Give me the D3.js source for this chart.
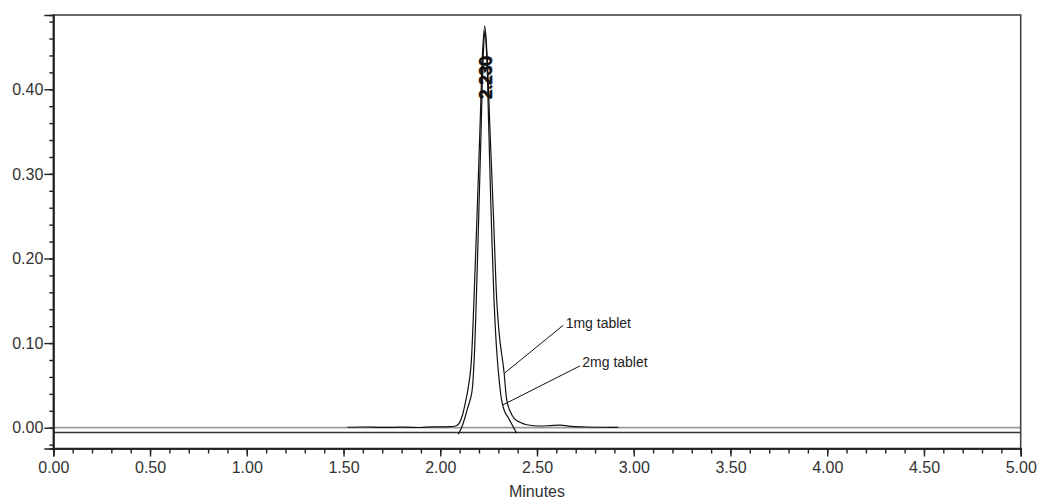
<!DOCTYPE html>
<html>
<head>
<meta charset="utf-8">
<script src="https://cdn.jsdelivr.net/npm/d3@7"></script>
<style>
  html, body { margin: 0; padding: 0; background: #fff; }
  svg { display: block; font-family: "Liberation Sans", Arial, Helvetica, sans-serif; }
</style>
</head>
<body>
<svg id="chart" width="1039" height="501"></svg>
<script>
// ---- data (minutes, AU) ----
const xMajorTicks = [0, 0.5, 1, 1.5, 2, 2.5, 3, 3.5, 4, 4.5, 5];
const xMinorTicks = d3.range(0, 51).map(i => i / 10);
const yMajorTicks = [0, 0.1, 0.2, 0.3, 0.4];
const yMinorTicks = d3.range(-1, 25).map(i => i * 0.02);

const trace1mgTime = [1.52, 1.60, 1.70, 1.80, 1.90, 1.96, 2.00, 2.05, 2.08, 2.10, 2.115, 2.13, 2.145, 2.162, 2.174, 2.19, 2.205, 2.218, 2.23, 2.242, 2.257, 2.275, 2.292, 2.303, 2.33, 2.342, 2.36, 2.386, 2.412, 2.447, 2.515, 2.57, 2.62, 2.68, 2.75, 2.85, 2.92];
const trace1mgValue = [0.0005, 0.0008, 0.0003, 0.0006, 0.0002, 0.0010, 0.0010, 0.0012, 0.0020, 0.0060, 0.015, 0.030, 0.048, 0.084, 0.150, 0.250, 0.352, 0.440, 0.475, 0.440, 0.352, 0.250, 0.150, 0.115, 0.065, 0.035, 0.020, 0.010, 0.0065, 0.0035, 0.002, 0.0025, 0.003, 0.0015, 0.0008, 0.0005, 0.0004];

const trace2mgBaselineTime = [0, 5];
const trace2mgBaselineValue = [-0.0057, -0.0057];
const trace2mgTime = [2.093, 2.11, 2.125, 2.14, 2.162, 2.174, 2.186, 2.20, 2.212, 2.222, 2.231, 2.24, 2.25, 2.262, 2.278, 2.292, 2.305, 2.317, 2.335, 2.351, 2.377, 2.395];
const trace2mgValue = [-0.0078, 0.000, 0.010, 0.022, 0.040, 0.075, 0.150, 0.260, 0.360, 0.440, 0.470, 0.440, 0.360, 0.260, 0.150, 0.090, 0.055, 0.033, 0.018, 0.012, 0.001, -0.0066];

const zeroLineValue = 0;
const peakLabel = "2.230";
const peakTime = 2.23;
const peakLabelValue = 0.388;

const annotations = [
  { text: "1mg tablet", tx: 2.648, ty: 0.1178, x1: 2.635, y1: 0.121, x2: 2.335, y2: 0.065 },
  { text: "2mg tablet", tx: 2.734, ty: 0.072, x1: 2.722, y1: 0.073, x2: 2.324, y2: 0.027 }
];

// ---- layout ----
const plotLeft = 53.3, plotRight = 1020.7, plotTop = 15, plotBottom = 448.5;
const svg = d3.select("#chart");

const x = d3.scaleLinear().domain([0, 5]).range([plotLeft, plotRight]);
const y = d3.scaleLinear().domain([-0.0246, 0.4878]).range([plotBottom, plotTop]);

// zero line (gray)
svg.append("line")
  .attr("x1", x(0)).attr("x2", x(5))
  .attr("y1", y(zeroLineValue)).attr("y2", y(zeroLineValue))
  .attr("stroke", "#9a9a9a").attr("stroke-width", 1.8);

const line = d3.line().x(d => x(d[0])).y(d => y(d[1])).curve(d3.curveMonotoneX);

// 2mg baseline
svg.append("path")
  .attr("d", line(trace2mgBaselineTime.map((t, i) => [t, trace2mgBaselineValue[i]])))
  .attr("fill", "none").attr("stroke", "#333").attr("stroke-width", 1.5);

// traces
svg.append("path")
  .attr("d", line(trace1mgTime.map((t, i) => [t, trace1mgValue[i]])))
  .attr("fill", "none").attr("stroke", "#111").attr("stroke-width", 1.2);

svg.append("path")
  .attr("d", d3.line().x(d => x(d[0])).y(d => y(d[1])).curve(d3.curveCatmullRom)(trace2mgTime.map((t, i) => [t, trace2mgValue[i]])))
  .attr("fill", "none").attr("stroke", "#111").attr("stroke-width", 1.2);

// frame
svg.append("rect")
  .attr("x", plotLeft).attr("y", plotTop)
  .attr("width", plotRight - plotLeft).attr("height", plotBottom - plotTop)
  .attr("fill", "none").attr("stroke", "#444").attr("stroke-width", 1.6);

// axes
const xAxis = svg.append("g").attr("transform", `translate(0,${plotBottom})`)
  .call(d3.axisBottom(x).tickValues(xMajorTicks).tickSize(8).tickPadding(5).tickFormat(d3.format(".2f")));
const xMinor = svg.append("g").attr("transform", `translate(0,${plotBottom})`)
  .call(d3.axisBottom(x).tickValues(xMinorTicks).tickSize(5).tickFormat(""));
const yAxis = svg.append("g").attr("transform", `translate(${plotLeft},0)`)
  .call(d3.axisLeft(y).tickValues(yMajorTicks).tickSize(9).tickPadding(1).tickFormat(d3.format(".2f")));
const yMinor = svg.append("g").attr("transform", `translate(${plotLeft},0)`)
  .call(d3.axisLeft(y).tickValues(yMinorTicks).tickSize(4).tickFormat(""));

[xAxis, xMinor, yAxis, yMinor].forEach(g => {
  g.select(".domain").attr("stroke", "#222").attr("stroke-width", 1.6);
  g.selectAll(".tick line").attr("stroke", "#222").attr("stroke-width", 1.4);
  g.selectAll("text").attr("fill", "#333").style("font-size", "16px")
    .style("font-family", '"Liberation Sans", Arial, Helvetica, sans-serif');
});

// axis title
svg.append("text")
  .attr("x", (plotLeft + plotRight) / 2).attr("y", 497)
  .attr("text-anchor", "middle")
  .attr("fill", "#333").style("font-size", "16px")
  .text("Minutes");

// peak labels (two overlapping, one per trace)
[[0, 0], [1.5, -1]].forEach(([dx, dy]) => {
  const px = x(peakTime) + 6 + dx, py = y(peakLabelValue) + dy;
  svg.append("text")
    .attr("transform", `translate(${px},${py}) rotate(-90)`)
    .attr("fill", "#111").attr("stroke", "#111").attr("stroke-width", 0.5)
    .style("font-size", "17px")
    .text(peakLabel);
});

// annotations
annotations.forEach(a => {
  svg.append("line")
    .attr("x1", x(a.x1)).attr("y1", y(a.y1))
    .attr("x2", x(a.x2)).attr("y2", y(a.y2))
    .attr("stroke", "#111").attr("stroke-width", 1);
  svg.append("text")
    .attr("x", x(a.tx)).attr("y", y(a.ty))
    .attr("fill", "#222").style("font-size", "14px")
    .text(a.text);
});
</script>
</body>
</html>
